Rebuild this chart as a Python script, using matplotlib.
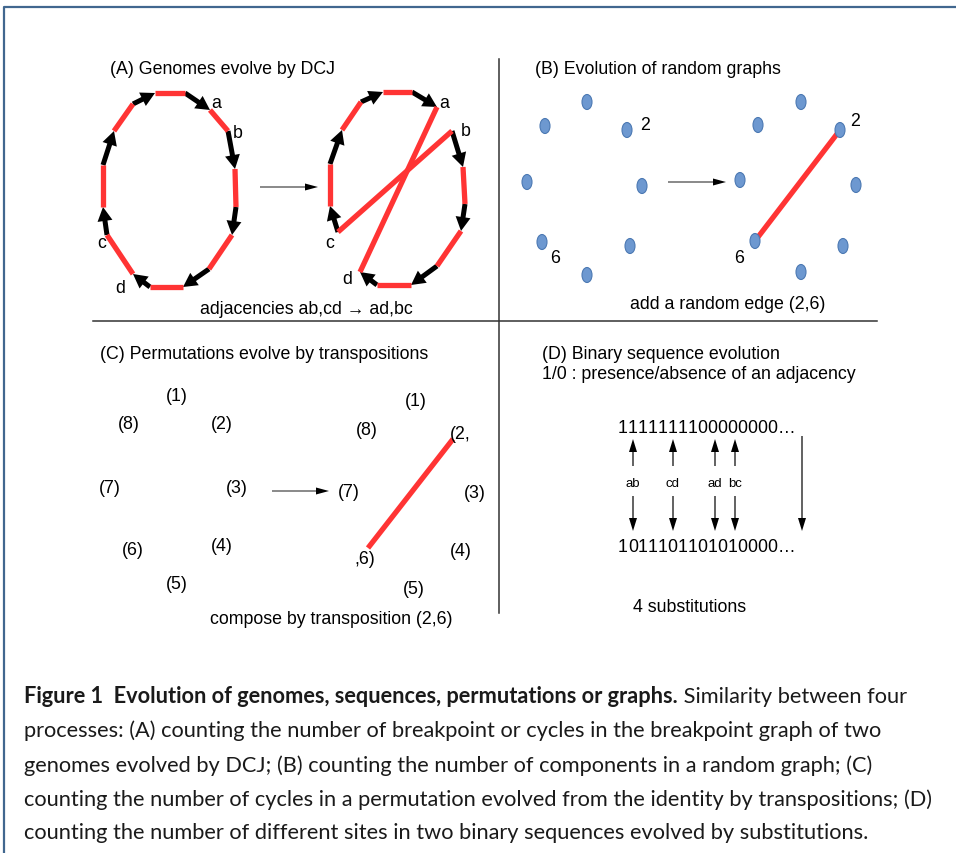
import matplotlib
matplotlib.use('Agg')
import matplotlib.pyplot as plt
from matplotlib.patches import Ellipse

# ---- data ----
# (A) genome ring: 16 vertices, genes are black arrows, adjacencies are red bars
ring_left_x = [155, 185, 210, 228, 235, 236, 232, 209, 183, 150, 133, 107, 103, 103, 114, 133]
ring_left_y = [94, 94, 111, 132, 170, 208, 236, 270, 288, 288, 275, 236, 208, 166, 132, 105]
ring_right_x = [383, 412, 437, 452, 463, 465, 461, 437, 411, 377, 360, 338, 330, 330, 342, 361]
ring_right_y = [93, 93, 108, 132, 168, 205, 232, 267, 286, 286, 273, 233, 207, 165, 131, 103]
genes = [(1, 2), (3, 4), (5, 6), (7, 8), (9, 10), (11, 12), (13, 14), (15, 0)]
adj_before = [(0, 1), (2, 3), (4, 5), (6, 7), (8, 9), (10, 11), (12, 13), (14, 15)]
adj_after = [(0, 1), (2, 10), (4, 5), (6, 7), (8, 9), (11, 3), (12, 13), (14, 15)]
ring_labels = ['a', 'b', 'c', 'd']
lab_left_x = [216, 238, 102, 120]
lab_left_y = [104, 133, 243, 289]
lab_right_x = [444, 466, 330, 347]
lab_right_y = [103, 132, 243, 280]

# (B) random graph, 8 nodes
nodes_left_x = [587, 627, 642, 630, 587, 542, 527, 545]
nodes_left_y = [103, 131, 187, 247, 276, 243, 183, 127]
nodes_right_x = [801, 840, 856, 843, 801, 755, 740, 758]
nodes_right_y = [103, 131, 186, 247, 273, 242, 181, 126]
new_edge = (1, 5)  # nodes 2 and 6

# (C) permutation
perm_left = ['(1)', '(2)', '(3)', '(4)', '(5)', '(6)', '(7)', '(8)']
perm_left_x = [177, 222, 237, 222, 177, 133, 110, 129]
perm_left_y = [397, 425, 489, 547, 585, 551, 489, 425]
perm_right = ['(1)', '(2,', '(3)', '(4)', '(5)', ',6)', '(7)', '(8)']
perm_right_x = [416, 460, 475, 461, 414, 365, 349, 367]
perm_right_y = [402, 435, 494, 552, 590, 560, 493, 431]

# (D) binary sequences
seq_before = '1111111100000000'
seq_after = '1011101101010000'
subst_labels = ['ab', 'cd', 'ad', 'bc']
subst_x = [633, 673, 715, 735]

caption_bold = 'Figure 1  Evolution of genomes, sequences, permutations or graphs.'
caption_lines = [
    ' Similarity between four',
    'processes: (A) counting the number of breakpoint or cycles in the breakpoint graph of two',
    'genomes evolved by DCJ; (B) counting the number of components in a random graph; (C)',
    'counting the number of cycles in a permutation evolved from the identity by transpositions; (D)',
    'counting the number of different sites in two binary sequences evolved by substitutions.',
]
caption_y = [697, 731, 766, 800, 833]

RED = '#ff3434'
FONT = ['Liberation Sans', 'DejaVu Sans']
FS = 12.8

fig = plt.figure(figsize=(9.56, 8.54), dpi=100)
ax = fig.add_axes([0, 0, 1, 1])
ax.set_xlim(0, 956)
ax.set_ylim(854, 0)
ax.axis('off')

# frame
ax.plot([4, 4, 956], [854, 8, 8], color='#41678f', lw=1.6, solid_capstyle='butt')

# dividers
ax.plot([499, 499], [60, 614], color='#333333', lw=1.1)
ax.plot([93, 877], [322, 322], color='#333333', lw=1.1)


def thin_arrow(x0, y0, x1, y1, hw=7, hl=13, lw=0.9):
    ax.arrow(x0, y0, x1 - x0, y1 - y0, width=lw, head_width=hw, head_length=hl,
             length_includes_head=True, color='black', lw=0)


def draw_ring(xs, ys, adj):
    for i, j in adj:
        ax.plot([xs[i], xs[j]], [ys[i], ys[j]], color=RED, lw=3.8, solid_capstyle='butt')
    for i, j in genes:
        ax.arrow(xs[i], ys[i], xs[j] - xs[i], ys[j] - ys[i], width=5, head_width=15,
                 head_length=14, length_includes_head=True, color='black', lw=0)


def draw_bits(x0, y, bits, step=9.95):
    # one glyph per digit so the pair kerning of "11" does not squeeze them
    for k, ch in enumerate(bits):
        ax.text(x0 + k * step, y, ch, family=FONT, fontsize=FS, va='center')
    ax.text(x0 + len(bits) * step, y, '\u2026', family=FONT, fontsize=FS, va='center')


# ---- (A) ----
ax.text(110, 70, '(A) Genomes evolve by DCJ', family=FONT, fontsize=FS, va='center')
draw_ring(ring_left_x, ring_left_y, adj_before)
draw_ring(ring_right_x, ring_right_y, adj_after)
for k in range(4):
    ax.text(lab_left_x[k], lab_left_y[k], ring_labels[k], family=FONT, fontsize=FS, ha='center', va='center')
    ax.text(lab_right_x[k], lab_right_y[k], ring_labels[k], family=FONT, fontsize=FS, ha='center', va='center')
thin_arrow(260, 188, 318, 188)
ax.text(306, 310, 'adjacencies ab,cd \u2192 ad,bc', family=FONT, fontsize=FS, ha='center', va='center')

# ---- (B) ----
ax.text(535, 70, '(B) Evolution of random graphs', family=FONT, fontsize=FS, va='center')
for xs, ys in [(nodes_left_x, nodes_left_y), (nodes_right_x, nodes_right_y)]:
    for x, y in zip(xs, ys):
        ax.add_patch(Ellipse((x, y), 10, 15, facecolor='#6d98d0', edgecolor='#4c79b3', lw=0.8, zorder=3))
i, j = new_edge
ax.plot([nodes_right_x[i], nodes_right_x[j]], [nodes_right_y[i], nodes_right_y[j]],
        color=RED, lw=3.8, solid_capstyle='butt', zorder=2)
ax.text(645, 126, '2', family=FONT, fontsize=FS, ha='center', va='center')
ax.text(555, 259, '6', family=FONT, fontsize=FS, ha='center', va='center')
ax.text(855, 121, '2', family=FONT, fontsize=FS, ha='center', va='center')
ax.text(739, 259, '6', family=FONT, fontsize=FS, ha='center', va='center')
thin_arrow(668, 183, 726, 183)
ax.text(728, 305, 'add a random edge (2,6)', family=FONT, fontsize=FS, ha='center', va='center')

# ---- (C) ----
ax.text(100, 355, '(C) Permutations evolve by transpositions', family=FONT, fontsize=FS, va='center')
for lab, x, y in zip(perm_left, perm_left_x, perm_left_y):
    ax.text(x, y, lab, family=FONT, fontsize=FS, ha='center', va='center')
for lab, x, y in zip(perm_right, perm_right_x, perm_right_y):
    ax.text(x, y, lab, family=FONT, fontsize=FS, ha='center', va='center')
ax.plot([453, 368], [440, 549], color=RED, lw=3.8, solid_capstyle='butt')
thin_arrow(272, 492, 329, 492)
ax.text(331, 620, 'compose by transposition (2,6)', family=FONT, fontsize=FS, ha='center', va='center')

# ---- (D) ----
ax.text(542, 355, '(D) Binary sequence evolution', family=FONT, fontsize=FS, va='center')
ax.text(542, 375, '1/0 : presence/absence of an adjacency', family=FONT, fontsize=FS, va='center')
draw_bits(618, 429, seq_before)
draw_bits(618, 548, seq_after)
for lab, x in zip(subst_labels, subst_x):
    thin_arrow(x, 467, x, 440, hw=8, hl=13, lw=1.2)
    thin_arrow(x, 497, x, 532, hw=8, hl=13, lw=1.2)
    ax.text(x, 484, lab, family=FONT, fontsize=9.5, ha='center', va='center')
thin_arrow(802, 437, 802, 532, hw=8, hl=13, lw=1.2)
ax.text(690, 608, '4 substitutions', family=FONT, fontsize=FS, ha='center', va='center')

# ---- caption ----
cap_font = ['Lato', 'DejaVu Sans']
fig.canvas.draw()
probe = ax.text(0, 0, caption_lines[3], family=cap_font, fontsize=12)
w = probe.get_window_extent(fig.canvas.get_renderer()).width
probe.remove()
cap_fs = 12 * 906 / w

tb = ax.text(24, caption_y[0], caption_bold, family=cap_font, fontsize=cap_fs,
             fontweight='bold', va='center', color='#1a1a1a')
bb = tb.get_window_extent(fig.canvas.get_renderer())
ax.text(24 + bb.width, caption_y[0], caption_lines[0], family=cap_font, fontsize=cap_fs,
        va='center', color='#1a1a1a')
for line, y in zip(caption_lines[1:], caption_y[1:]):
    ax.text(24, y, line, family=cap_font, fontsize=cap_fs, va='center', color='#1a1a1a')

fig.savefig('out.png', dpi=100)
